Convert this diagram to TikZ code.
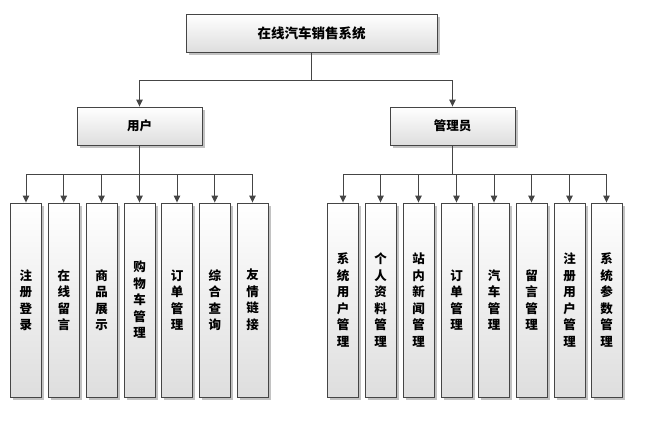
\documentclass[tikz,border=0pt]{standalone}
\usepackage{fontspec}
\newfontfamily\cjk{Noto Sans CJK SC}
\usetikzlibrary{arrows.meta,shadows}
\definecolor{linegray}{HTML}{454545}
\begin{document}
\begin{tikzpicture}[
    x=1pt, y=-1pt,
    >={Triangle[length=7pt,width=6.5pt]},
    font=\cjk\bfseries\fontsize{12.5}{14}\selectfont,
    box/.style={rectangle, draw=linegray, line width=0.9pt, inner sep=0pt, top color=white, bottom color=black!13,
        drop shadow={shadow xshift=2.5pt, shadow yshift=-2.5pt, fill=black!40, opacity=0.6}},
    rootbox/.style={box, minimum width=251pt, minimum height=38pt, font=\cjk\bfseries\fontsize{13.5}{15}\selectfont},
    rolebox/.style={box, minimum width=125pt, minimum height=38pt},
    funcbox/.style={box, minimum width=31pt, minimum height=194pt, align=center, font=\cjk\bfseries\fontsize{12.5}{16.5}\selectfont},
    link/.style={draw=linegray, line width=0.9pt}
]

    \useasboundingbox (0,0) rectangle (646,424);

    % 1. System
    \node[rootbox] (sys) at (311.5, 33) {在线汽车销售系统};

    % 2. Roles
    \node[rolebox] (user) at (139.5, 126) {用户};
    \node[rolebox] (admin) at (452.5, 126) {管理员};

    % Arrows: System to Roles
    \draw[link, ->] (sys.south) -- ++(0,28) -| (user.north);
    \draw[link, ->] (sys.south) -- ++(0,28) -| (admin.north);

    % 3. User functions
    \node[funcbox] (u1) at (26, 300) {注\\册\\登\\录};
    \node[funcbox] (u2) at (63.75, 300) {在\\线\\留\\言};
    \node[funcbox] (u3) at (101.5, 300) {商\\品\\展\\示};
    \node[funcbox] (u4) at (139.5, 300) {购\\物\\车\\管\\理};
    \node[funcbox] (u5) at (177, 300) {订\\单\\管\\理};
    \node[funcbox] (u6) at (214.75, 300) {综\\合\\查\\询};
    \node[funcbox] (u7) at (252.5, 300) {友\\情\\链\\接};

    % Arrows: User to functions
    \draw[link, ->] (user.south) -- ++(0,29) -| (u1.north);
    \draw[link, ->] (user.south) -- ++(0,29) -| (u2.north);
    \draw[link, ->] (user.south) -- ++(0,29) -| (u3.north);
    \draw[link, ->] (user.south) -- (u4.north);
    \draw[link, ->] (user.south) -- ++(0,29) -| (u5.north);
    \draw[link, ->] (user.south) -- ++(0,29) -| (u6.north);
    \draw[link, ->] (user.south) -- ++(0,29) -| (u7.north);

    % 4. Admin functions
    \node[funcbox] (a1) at (343, 300) {系\\统\\用\\户\\管\\理};
    \node[funcbox] (a2) at (380.5, 300) {个\\人\\资\\料\\管\\理};
    \node[funcbox] (a3) at (418.5, 300) {站\\内\\新\\闻\\管\\理};
    \node[funcbox] (a4) at (456.5, 300) {订\\单\\管\\理};
    \node[funcbox] (a5) at (494, 300) {汽\\车\\管\\理};
    \node[funcbox] (a6) at (531.5, 300) {留\\言\\管\\理};
    \node[funcbox] (a7) at (569.5, 300) {注\\册\\用\\户\\管\\理};
    \node[funcbox] (a8) at (606.5, 300) {系\\统\\参\\数\\管\\理};

    % Arrows: Admin to functions
    \draw[link, ->] (admin.south) -- ++(0,29) -| (a1.north);
    \draw[link, ->] (admin.south) -- ++(0,29) -| (a2.north);
    \draw[link, ->] (admin.south) -- ++(0,29) -| (a3.north);
    \draw[link, ->] (admin.south) -- ++(0,29) -| (a4.north);
    \draw[link, ->] (admin.south) -- ++(0,29) -| (a5.north);
    \draw[link, ->] (admin.south) -- ++(0,29) -| (a6.north);
    \draw[link, ->] (admin.south) -- ++(0,29) -| (a7.north);
    \draw[link, ->] (admin.south) -- ++(0,29) -| (a8.north);

\end{tikzpicture}
\end{document}
